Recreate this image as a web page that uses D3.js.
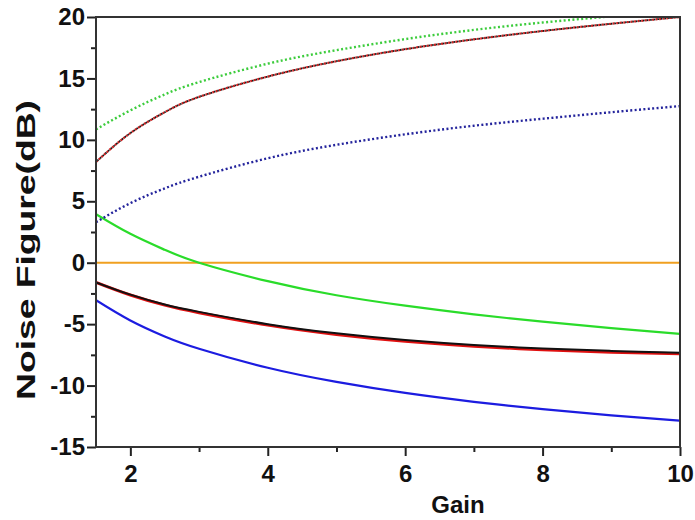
<!DOCTYPE html>
<html>
<head>
<meta charset="utf-8">
<script src="https://cdn.jsdelivr.net/npm/d3@7"></script>
<style>
  body { margin: 0; background: #fff; }
  text { font-family: "Liberation Sans", Arial, sans-serif; font-weight: bold; }
</style>
</head>
<body>
<div id="container"></div>
<script>
const gain = [1.5, 2, 2.5, 3, 4, 5, 6, 7, 8, 9, 10];

// dotted curves (upper group)
const greenDot = [10.85, 12.4, 13.7, 14.7, 16.2, 17.3, 18.2, 18.95, 19.55, 20.05, 20.5];
const redDot   = [8.2, 10.55, 12.25, 13.5, 15.15, 16.4, 17.38, 18.18, 18.86, 19.45, 20.0];
const blueDot  = [3.3, 4.85, 6.05, 7.0, 8.5, 9.6, 10.45, 11.15, 11.72, 12.25, 12.75];

// solid curves (lower group)
const greenSolid  = [3.95, 2.35, 1.05, 0.0, -1.5, -2.65, -3.5, -4.2, -4.8, -5.32, -5.8];
const redSolid    = [-1.6, -2.63, -3.45, -4.07, -5.08, -5.84, -6.4, -6.8, -7.08, -7.28, -7.42];
const blackSolid  = [-1.6, -2.6, -3.4, -4.0, -5.0, -5.75, -6.3, -6.7, -6.98, -7.18, -7.33];
const blueSolid   = [-3.05, -4.7, -6.0, -7.0, -8.55, -9.7, -10.6, -11.32, -11.92, -12.42, -12.85];
const orangeLine  = [0, 0, 0, 0, 0, 0, 0, 0, 0, 0, 0];

const xTicks = [2, 4, 6, 8, 10];
const xMinor = [3, 5, 7, 9];
const yTicks = [-15, -10, -5, 0, 5, 10, 15, 20];
const yMinor = [-12.5, -7.5, -2.5, 2.5, 7.5, 12.5, 17.5];

const W = 695, H = 520;
const margin = {left: 96, right: 15, top: 17, bottom: 73};

const svg = d3.select('#container').append('svg')
    .attr('width', W)
    .attr('height', H);

const x = d3.scaleLinear().domain([1.5, 10]).range([margin.left, W - margin.right]);
const y = d3.scaleLinear().domain([-15, 20]).range([H - margin.bottom, margin.top]);

svg.append('clipPath').attr('id', 'clip')
    .append('rect')
    .attr('x', x(1.5)).attr('y', y(20))
    .attr('width', x(10) - x(1.5)).attr('height', y(-15) - y(20));

const plot = svg.append('g').attr('clip-path', 'url(#clip)');

const line = d3.line()
    .x((d, i) => x(gain[i]))
    .y(d => y(d))
    .curve(d3.curveNatural);

function draw(vals, color, width, dash, offset) {
    const p = plot.append('path')
        .attr('d', line(vals))
        .attr('fill', 'none')
        .attr('stroke', color)
        .attr('stroke-width', width);
    if (dash) p.attr('stroke-dasharray', dash);
    if (offset) p.attr('stroke-dashoffset', offset);
    return p;
}

draw(orangeLine, '#f0a020', 2);
draw(greenSolid, '#2adc2a', 2.2);
draw(redSolid, '#e01010', 3);
draw(blackSolid, '#111', 2);
draw(blueSolid, '#1c1ce0', 2.2);

draw(greenDot, '#3ccc3c', 2.4, '2,2.4');
draw(redDot, '#d02020', 2.2, '2,1.6');
draw(redDot, '#1a1a1a', 1.8, '1.6,2', 1.8);
draw(blueDot, '#24249c', 2.4, '2,2.4');

// axes
const fmt = d => String(d);
const xAxis = svg.append('g')
    .attr('transform', `translate(0,${y(-15)})`)
    .call(d3.axisBottom(x).tickValues(xTicks).tickSize(9).tickPadding(9).tickFormat(fmt));
const xAxisMinor = svg.append('g')
    .attr('transform', `translate(0,${y(-15)})`)
    .call(d3.axisBottom(x).tickValues(xMinor).tickSize(5).tickFormat(''));

const yAxis = svg.append('g')
    .attr('transform', `translate(${x(1.5)},0)`)
    .call(d3.axisLeft(y).tickValues(yTicks).tickSize(9).tickPadding(2).tickFormat(fmt));
const yAxisMinor = svg.append('g')
    .attr('transform', `translate(${x(1.5)},0)`)
    .call(d3.axisLeft(y).tickValues(yMinor).tickSize(5).tickFormat(''));

[xAxis, xAxisMinor, yAxis, yAxisMinor].forEach(g => {
    g.select('.domain').remove();
    g.selectAll('.tick line').attr('stroke', '#222').attr('stroke-width', 2);
    g.selectAll('.tick text')
        .attr('fill', '#111')
        .style('font-size', '24px');
});

// frame
svg.append('rect')
    .attr('x', x(1.5)).attr('y', y(20))
    .attr('width', x(10) - x(1.5)).attr('height', y(-15) - y(20))
    .attr('fill', 'none')
    .attr('stroke', '#333')
    .attr('stroke-width', 2);

// titles
svg.append('text')
    .attr('x', 458)
    .attr('y', 513)
    .attr('text-anchor', 'middle')
    .attr('fill', '#111')
    .style('font-size', '24px')
    .text('Gain');

svg.append('text')
    .attr('transform', `translate(35,250) rotate(-90)`)
    .attr('text-anchor', 'middle')
    .attr('fill', '#111')
    .attr('textLength', 300)
    .attr('lengthAdjust', 'spacingAndGlyphs')
    .style('font-size', '26px')
    .text('Noise Figure(dB)');
</script>
</body>
</html>
